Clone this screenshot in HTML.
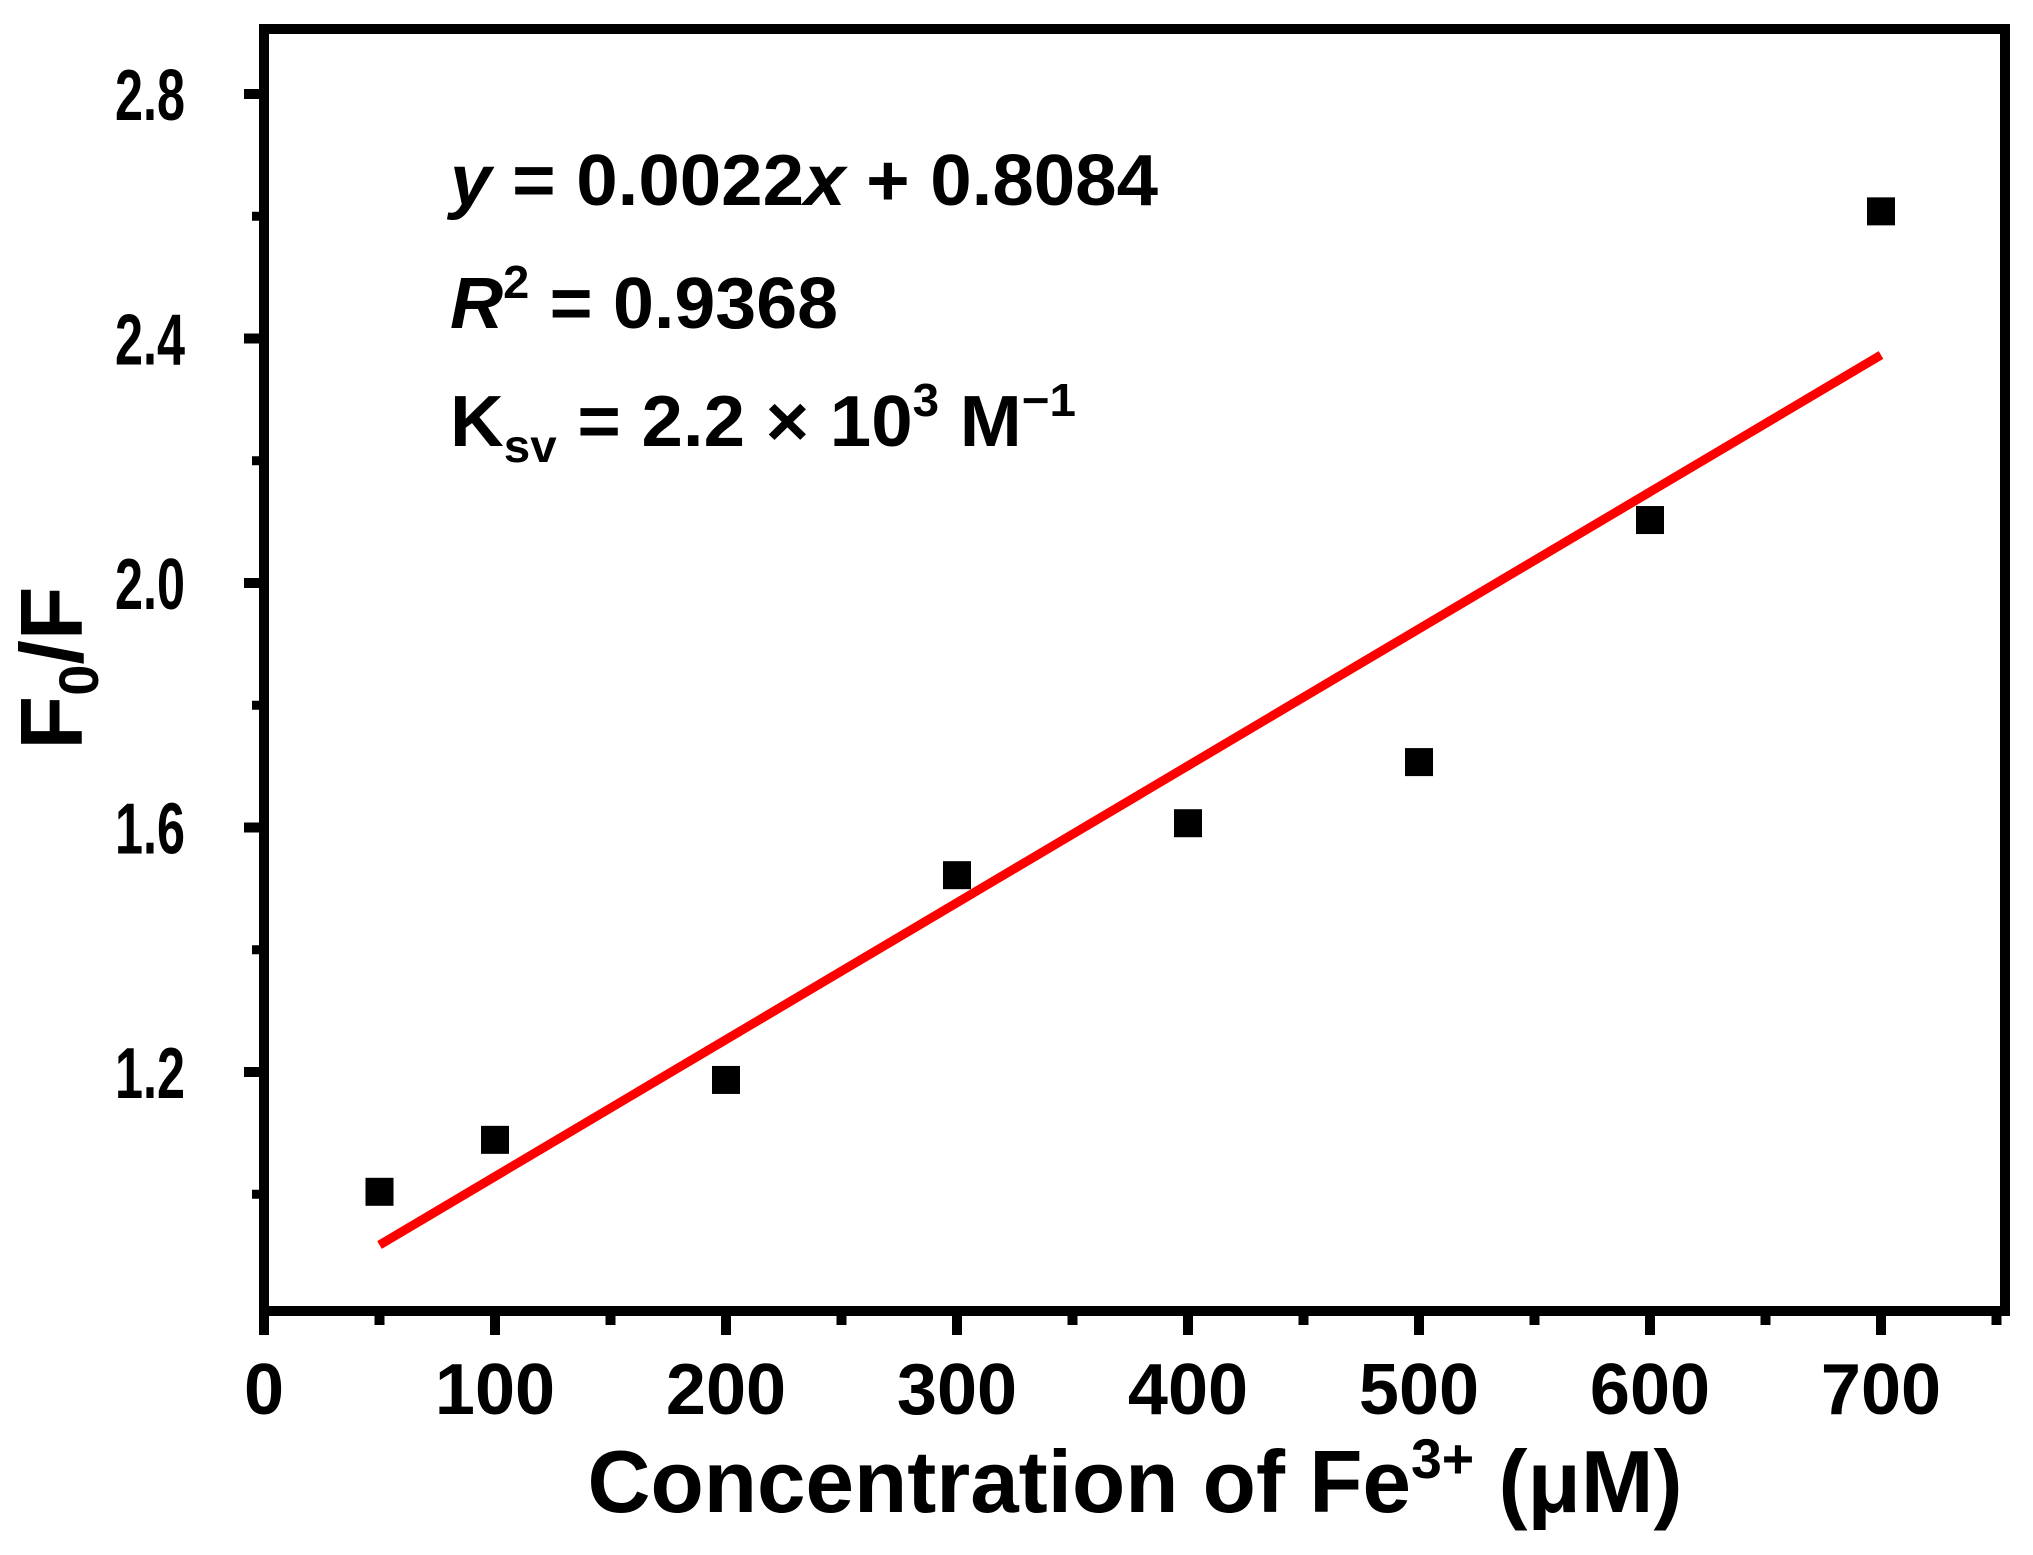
<!DOCTYPE html>
<html><head><meta charset="utf-8"><style>
html,body{margin:0;padding:0;background:#fff;}
svg{display:block;font-family:"Liberation Sans",Arial,sans-serif;font-weight:bold;}
</style></head><body>
<svg id="chart" width="2033" height="1555" viewBox="0 0 2033 1555" xmlns="http://www.w3.org/2000/svg">
<g id="axes"></g>
<g id="marks"></g>
<g font-size="72">
<text x="450" y="205" textLength="708" lengthAdjust="spacingAndGlyphs"><tspan font-style="italic">y</tspan> = 0.0022<tspan font-style="italic">x</tspan> + 0.8084</text>
<text x="450" y="328" textLength="388" lengthAdjust="spacingAndGlyphs"><tspan font-style="italic">R</tspan><tspan font-size="46" dy="-30">2</tspan><tspan dy="30"> = 0.9368</tspan></text>
<text x="450" y="446" textLength="626" lengthAdjust="spacingAndGlyphs">K<tspan font-size="46" dy="16">sv</tspan><tspan dy="-16"> = 2.2 × 10</tspan><tspan font-size="46" dy="-30">3</tspan><tspan dy="30"> M</tspan><tspan font-size="46" dy="-30">−1</tspan></text>
</g>
<text x="1135" y="1512" font-size="88" text-anchor="middle" textLength="1095" lengthAdjust="spacingAndGlyphs">Concentration of Fe<tspan font-size="56" dy="-34">3+</tspan><tspan dy="34"> (μM)</tspan></text>
<text transform="translate(82,668) rotate(-90)" font-size="88" text-anchor="middle">F<tspan font-size="56" dy="16">0</tspan><tspan dy="-16">/F</tspan></text>
</svg>
<script>
const xValues=[50,100,200,300,400,500,600,700];
const yValues=[1.004,1.089,1.187,1.522,1.607,1.707,2.103,2.608];
const fitSlope=0.00224;
const fitIntercept=0.805;
const fitRange=[50,700];
const xTicks=[0,100,200,300,400,500,600,700];
const xMinorTicks=[50,150,250,350,450,550,650,750];
const yTicks=[1.2,1.6,2.0,2.4,2.8];
const yMinorTicks=[1.0,1.4,1.8,2.2,2.6];
const yTickLabels=["1.2","1.6","2.0","2.4","2.8"];

const L=264,R=2005,T=29,B=1311;
const X0=264,X700=1881;
const xs=v=>X0+(v/700)*(X700-X0);
const Y12=1072,Y28=94;
const ys=v=>Y12+(v-1.2)/(1.6)*(Y28-Y12);
const NS="http://www.w3.org/2000/svg";
function mk(tag,attrs,parent){const e=document.createElementNS(NS,tag);for(const k in attrs)e.setAttribute(k,attrs[k]);parent.appendChild(e);return e;}
const axes=document.getElementById('axes'),marks=document.getElementById('marks');

let fr=mk('rect',{x:L,y:T,width:R-L,height:B-T,fill:'none',stroke:'#000','stroke-width':10},axes);



xTicks.forEach((v,i)=>{
 let t=mk('line',{x1:xs(v),x2:xs(v),y1:B,y2:B+24,stroke:'#000','stroke-width':10},axes);
 
 
 let l=mk('text',{x:xs(v),y:1414,'font-size':72,'text-anchor':'middle'},axes);
 l.textContent=String(v);
 
 
});
xMinorTicks.forEach(v=>{
 let t=mk('line',{x1:xs(v),x2:xs(v),y1:B,y2:B+14,stroke:'#000','stroke-width':10},axes);
 
 
});
yTicks.forEach((v,i)=>{
 let t=mk('line',{x1:L-20,x2:L,y1:ys(v),y2:ys(v),stroke:'#000','stroke-width':10},axes);
 
 
 let l=mk('text',{x:115,y:ys(v)+26,'font-size':72,textLength:70,lengthAdjust:'spacingAndGlyphs'},axes);
 l.textContent=yTickLabels[i];
 
 
});
yMinorTicks.forEach(v=>{
 let t=mk('line',{x1:L-12,x2:L,y1:ys(v),y2:ys(v),stroke:'#000','stroke-width':9},axes);
 
 
});

let fl=mk('line',{x1:xs(fitRange[0]),y1:ys(fitSlope*fitRange[0]+fitIntercept),x2:xs(fitRange[1]),y2:ys(fitSlope*fitRange[1]+fitIntercept),stroke:'#ff0000','stroke-width':9},marks);



xValues.forEach((v,i)=>{
 let s=mk('rect',{x:xs(v)-14,y:ys(yValues[i])-14,width:28,height:28,fill:'#000'},marks);
 
 
});
</script>
</body></html>
